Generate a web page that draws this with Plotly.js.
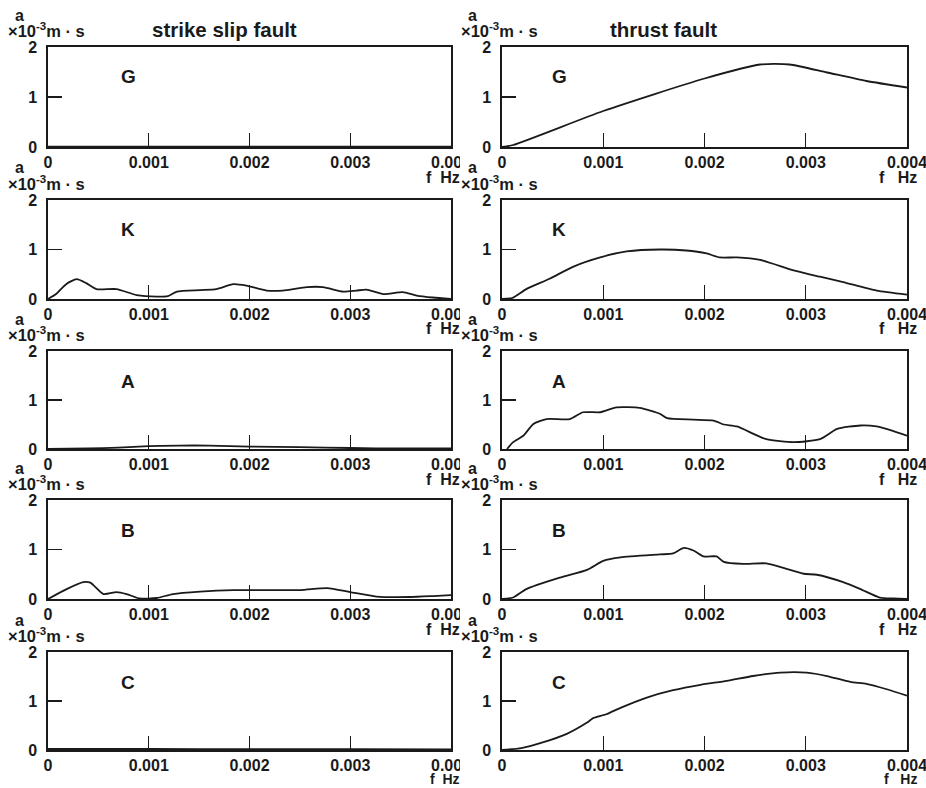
<!DOCTYPE html>
<html>
<head>
<meta charset="utf-8">
<script src="https://cdn.plot.ly/plotly-3.0.1.min.js"></script>
<style>html,body{margin:0;padding:0;background:#fff;}#chart{width:926px;height:788px;}</style>
</head>
<body>
<div id="chart"></div>
<script>
// ---- data (a in 10^-3 m·s, f in Hz) ----
const panelLetters = ["G", "K", "A", "B", "C"];
const columnTitles = ["strike slip fault", "thrust fault"];
const xTickVals = [0, 0.001, 0.002, 0.003, 0.004];
const xTickText = ["0", "0.001", "0.002", "0.003", "0.004"];
const yTickVals = [0, 1, 2];
const yTickText = ["0", "1", "2"];

// strike slip fault
const ssG_f = [0, 0.001, 0.002, 0.003, 0.004];
const ssG_a = [0.005, 0.005, 0.005, 0.005, 0.005];
const ssK_f = [0, 0.00008, 0.00018, 0.000285, 0.00038, 0.00048, 0.00068, 0.00088, 0.00108, 0.00119, 0.00128, 0.00151, 0.00167, 0.00184, 0.00197, 0.00217, 0.00233, 0.00257, 0.00273, 0.00293, 0.00306, 0.00316, 0.00333, 0.00352, 0.00366, 0.00382, 0.004];
const ssK_a = [0, 0.1, 0.3, 0.4, 0.32, 0.2, 0.2, 0.08, 0.05, 0.06, 0.15, 0.18, 0.2, 0.3, 0.27, 0.17, 0.17, 0.24, 0.24, 0.15, 0.17, 0.19, 0.1, 0.14, 0.07, 0.03, 0.0];
const ssA_f = [0, 0.0004, 0.0007, 0.001, 0.0013, 0.0016, 0.002, 0.0025, 0.003, 0.0035, 0.004];
const ssA_a = [0, 0.01, 0.03, 0.06, 0.07, 0.07, 0.05, 0.04, 0.02, 0.01, 0.01];
const ssB_f = [0, 0.000185, 0.00035, 0.00042, 0.00055, 0.00068, 0.00078, 0.00091, 0.00108, 0.00124, 0.00151, 0.00184, 0.0025, 0.00277, 0.003, 0.00326, 0.00359, 0.00382, 0.004];
const ssB_a = [0, 0.2, 0.34, 0.33, 0.1, 0.14, 0.1, 0.01, 0.02, 0.1, 0.15, 0.18, 0.18, 0.22, 0.14, 0.05, 0.04, 0.06, 0.08];
const ssC_f = [0, 0.001, 0.002, 0.003, 0.004];
const ssC_a = [0.02, 0.02, 0.015, 0.015, 0.01];

// thrust fault
const thG_f = [0, 0.00011, 0.001, 0.002, 0.00255, 0.00284, 0.00321, 0.0036, 0.004];
const thG_a = [0, 0.04, 0.72, 1.37, 1.65, 1.65, 1.49, 1.32, 1.19];
const thK_f = [0, 0.0001, 0.00024, 0.00047, 0.0007, 0.00097, 0.00123, 0.00156, 0.00182, 0.00202, 0.00215, 0.00232, 0.00255, 0.00288, 0.00314, 0.00337, 0.0037, 0.004];
const thK_a = [0, 0.02, 0.2, 0.41, 0.65, 0.84, 0.96, 1.0, 0.98, 0.92, 0.84, 0.84, 0.79, 0.58, 0.45, 0.34, 0.17, 0.09];
const thA_f = [0.00005, 0.00011, 0.00021, 0.00031, 0.00044, 0.00067, 0.0008, 0.00097, 0.00113, 0.00136, 0.00156, 0.00163, 0.00189, 0.00209, 0.00219, 0.00232, 0.00261, 0.00288, 0.00314, 0.00331, 0.00354, 0.0037, 0.00386, 0.004];
const thA_a = [0, 0.14, 0.27, 0.51, 0.61, 0.61, 0.75, 0.75, 0.85, 0.84, 0.72, 0.63, 0.6, 0.58, 0.5, 0.46, 0.2, 0.14, 0.2, 0.41, 0.48, 0.46, 0.37, 0.27];
const thB_f = [0, 0.00011, 0.00024, 0.00057, 0.00084, 0.001, 0.00117, 0.00156, 0.00169, 0.00179, 0.00189, 0.00199, 0.00212, 0.00219, 0.00238, 0.00261, 0.00281, 0.00298, 0.00311, 0.00337, 0.00354, 0.00373, 0.00387, 0.004];
const thB_a = [0, 0.03, 0.2, 0.43, 0.59, 0.77, 0.84, 0.9, 0.92, 1.03, 0.98, 0.86, 0.86, 0.75, 0.71, 0.72, 0.61, 0.51, 0.49, 0.34, 0.2, 0.03, 0.01, 0];
const thC_f = [0, 0.00019, 0.00041, 0.00064, 0.00084, 0.0009, 0.00103, 0.00117, 0.00143, 0.00169, 0.00196, 0.00222, 0.00248, 0.00275, 0.00301, 0.00321, 0.00344, 0.0036, 0.0038, 0.004];
const thC_a = [0, 0.04, 0.16, 0.33, 0.56, 0.65, 0.73, 0.86, 1.07, 1.22, 1.33, 1.41, 1.51, 1.58, 1.58, 1.51, 1.39, 1.35, 1.24, 1.11];

const seriesF = [[ssG_f, thG_f], [ssK_f, thK_f], [ssA_f, thA_f], [ssB_f, thB_f], [ssC_f, thC_f]];
const seriesA = [[ssG_a, thG_a], [ssK_a, thK_a], [ssA_a, thA_a], [ssB_a, thB_a], [ssC_a, thC_a]];

// ---- layout geometry (pixels) ----
const W = 926, H = 788;
const rowTop = [47, 200, 351, 500, 652];
const rowBot = [147, 299, 449, 599, 750];
const fHzOffset = [30, 30, 30, 30, 29];
const fHzSize = [16, 16, 16, 16, 14];
const colL = [48, 502];
const colR = [451, 907];
const px = p => p / W;
const py = p => 1 - p / H;

const FONT = "Liberation Sans, Arial, Helvetica, sans-serif";
const INK = "#1a1a1a";

const traces = [];
const layout = {
  width: W, height: H,
  margin: {l: 0, r: 0, t: 0, b: 0},
  paper_bgcolor: "#fff", plot_bgcolor: "#fff",
  showlegend: false,
  annotations: [],
  shapes: []
};

for (let r = 0; r < 5; r++) {
  for (let c = 0; c < 2; c++) {
    const n = r * 2 + c + 1;
    const xs = n === 1 ? "" : String(n);
    traces.push({
      x: seriesF[r][c], y: seriesA[r][c],
      xaxis: "x" + xs, yaxis: "y" + xs,
      type: "scatter", mode: "lines",
      line: {color: INK, width: 1.8, shape: "spline", smoothing: 0.6},
      hoverinfo: "skip"
    });
    const common = {
      showline: true, mirror: true, linecolor: INK, linewidth: 1.6,
      showgrid: false, zeroline: false,
      ticks: "inside", ticklen: 14, tickwidth: 1.3, tickcolor: INK,
      tickfont: {family: FONT, size: 16, color: INK, weight: "bold"},
      ticklabeloverflow: "allow",
      fixedrange: true
    };
    layout["xaxis" + xs] = Object.assign({}, common, {
      domain: [px(colL[c]), px(colR[c])],
      range: [0, 0.004],
      tickmode: "array", tickvals: xTickVals, ticktext: xTickText,
      anchor: "y" + xs
    });
    layout["yaxis" + xs] = Object.assign({}, common, {
      domain: [py(rowBot[r]), py(rowTop[r])],
      range: [0, 2],
      tickmode: "array", tickvals: yTickVals, ticktext: yTickText,
      ticklabelstandoff: 6,
      anchor: "x" + xs
    });
    // panel letter
    layout.annotations.push({
      text: panelLetters[r], showarrow: false,
      xref: "paper", yref: "paper",
      x: px(c === 0 ? 128 : 559), y: py(rowTop[r] + 30),
      xanchor: "center", yanchor: "middle",
      font: {family: FONT, size: 19, color: INK, weight: "bold"}
    });
    // unit header
    layout.annotations.push({
      text: "a", showarrow: false, xref: "paper", yref: "paper",
      x: px(colL[c] - 29), y: py(rowTop[r] - 32),
      xanchor: "center", yanchor: "middle",
      font: {family: FONT, size: 16, color: INK, weight: "bold"}
    });
    layout.annotations.push({
      text: "×10<sup>-3</sup>m · s", showarrow: false, xref: "paper", yref: "paper",
      x: px(colL[c] - 2), y: py(rowTop[r] - 17),
      xanchor: "center", yanchor: "middle",
      font: {family: FONT, size: 16.5, color: INK, weight: "bold"}
    });
    // f Hz
    layout.annotations.push({
      text: c === 0 ? "f  Hz" : "f   Hz", showarrow: false, xref: "paper", yref: "paper",
      x: px(c === 0 ? 462 : 919), y: py(rowBot[r] + fHzOffset[r]),
      xanchor: "right", yanchor: "middle",
      font: {family: FONT, size: fHzSize[r], color: INK, weight: "bold"}
    });
  }
}

// column titles
columnTitles.forEach((t, c) => {
  layout.annotations.push({
    text: t, showarrow: false, xref: "paper", yref: "paper",
    x: px(c === 0 ? 224 : 663), y: py(29),
    xanchor: "center", yanchor: "middle",
    font: {family: FONT, size: 20.5, color: INK, weight: "bold"}
  });
});

// the left-column images are cut off at the seam between the two columns
layout.shapes.push({
  type: "rect", xref: "paper", yref: "paper", layer: "above",
  x0: px(460), x1: px(478), y0: 0, y1: 1,
  fillcolor: "#fff", line: {width: 0}
});

Plotly.newPlot("chart", traces, layout, {staticPlot: true, displayModeBar: false});
</script>
</body>
</html>
